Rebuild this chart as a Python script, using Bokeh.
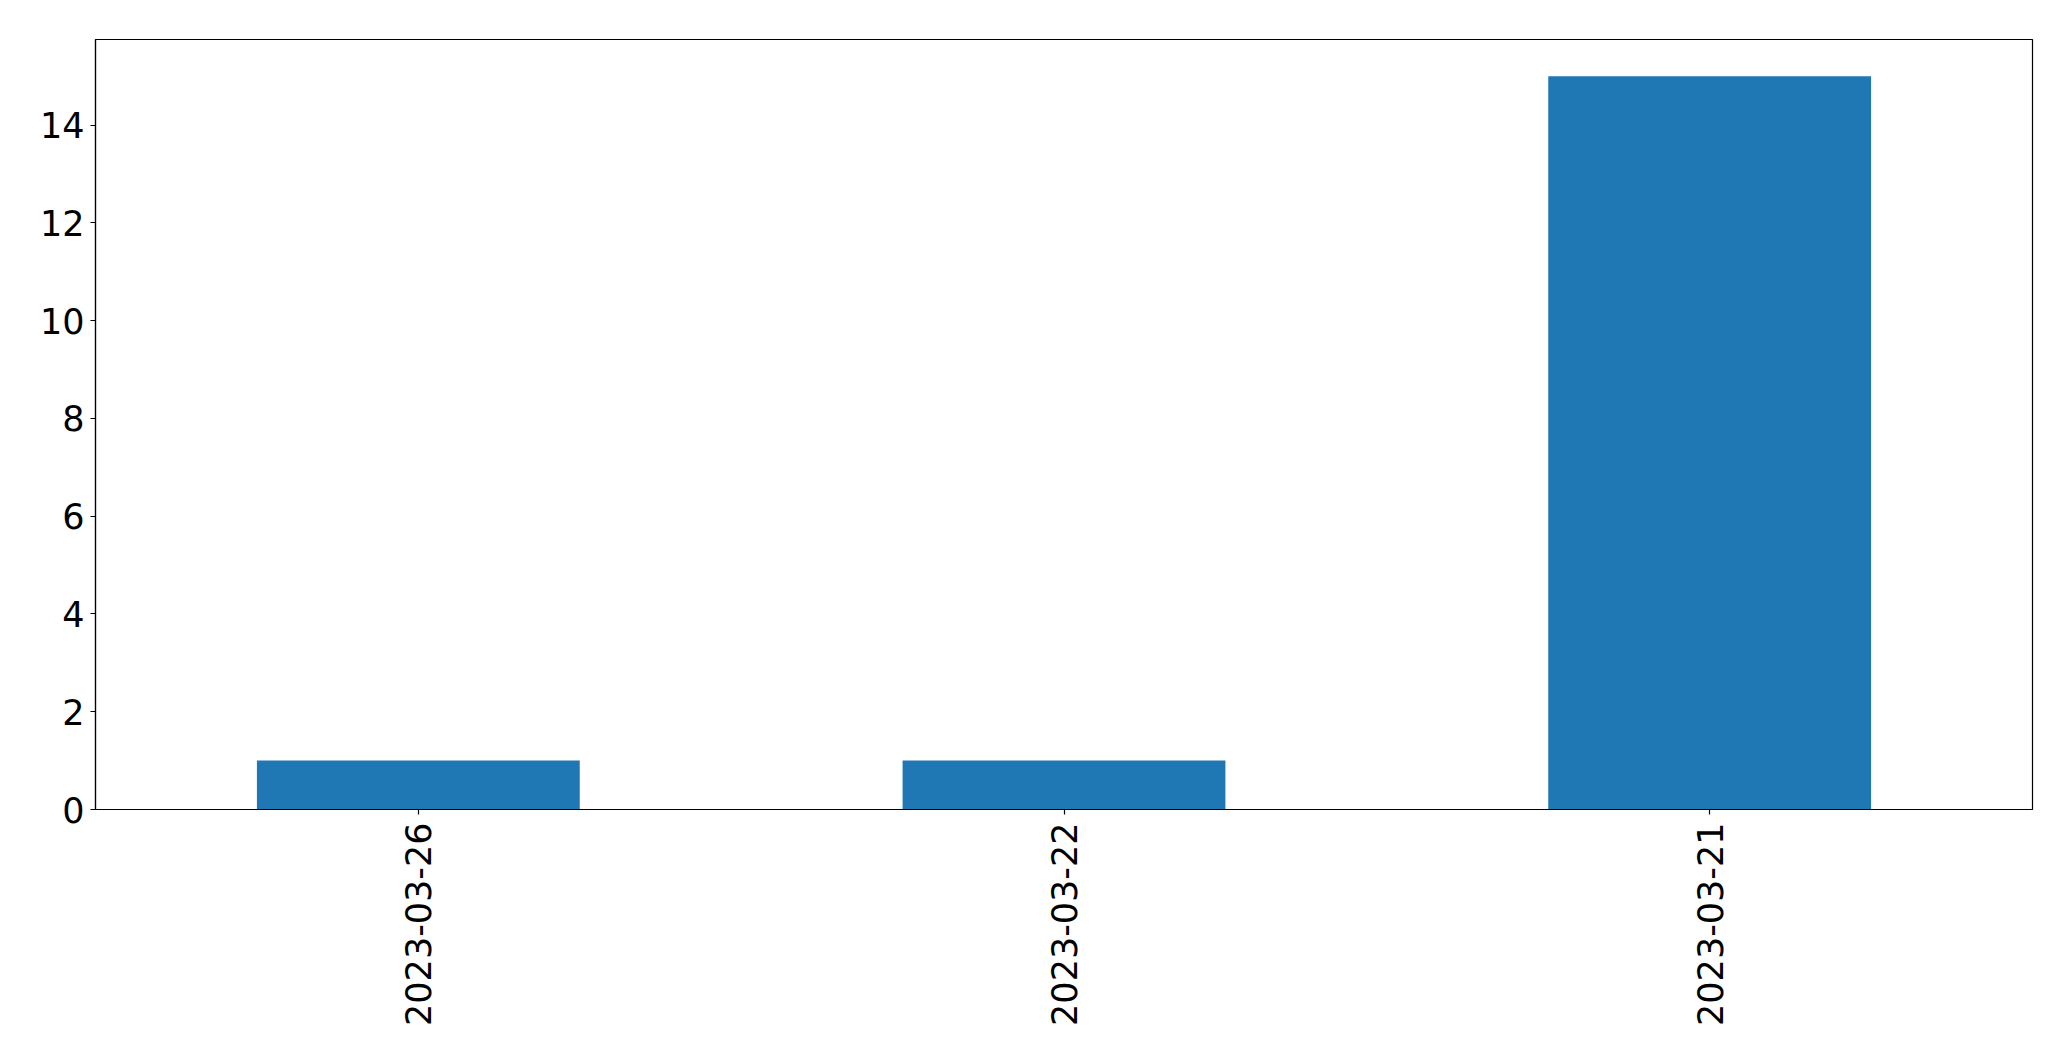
import math
from bokeh.plotting import figure
from bokeh.models import FixedTicker, Range1d, FactorRange
from bokeh.embed import file_html
from bokeh.resources import INLINE

dates = ["2023-03-26", "2023-03-22", "2023-03-21"]
counts = [1, 1, 15]
y_ticks = [0, 2, 4, 6, 8, 10, 12, 14]

p = figure(
    x_range=FactorRange(*dates, range_padding=0),
    y_range=Range1d(0, 15.75),
    width=2050, height=1040,
    output_backend="svg", toolbar_location=None,
    min_border_left=95, min_border_right=18, min_border_top=39, min_border_bottom=231,
)
p.vbar(x=dates, top=counts, width=0.5, color="#1f77b4", line_color=None)

p.xgrid.visible = False
p.ygrid.visible = False
p.outline_line_color = "black"
p.outline_line_width = 1.2
p.background_fill_color = "white"
p.border_fill_color = "white"

for ax in (p.xaxis[0], p.yaxis[0]):
    ax.axis_line_color = "black"
    ax.axis_line_width = 1.2
    ax.major_tick_line_color = "black"
    ax.major_tick_line_width = 1.2
    ax.major_tick_out = 5
    ax.major_tick_in = 0
    ax.minor_tick_out = 0
    ax.minor_tick_in = 0
    ax.major_label_text_font = "DejaVu Sans"
    ax.major_label_text_font_size = "35px"
    ax.major_label_text_color = "black"

p.yaxis.ticker = FixedTicker(ticks=y_ticks)
p.yaxis.major_label_standoff = 6
p.xaxis.major_label_orientation = math.pi / 2
p.xaxis.major_label_standoff = 8

open("out.html", "w").write(file_html(p, INLINE))
